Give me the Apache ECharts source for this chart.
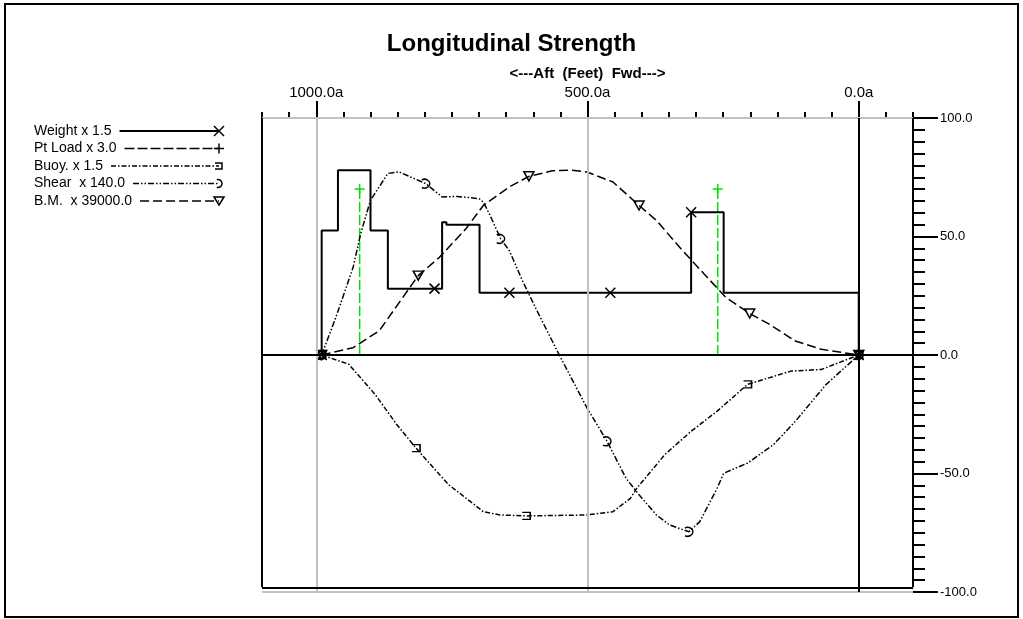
<!DOCTYPE html>
<html>
<head>
<meta charset="utf-8">
<script src="https://cdn.jsdelivr.net/npm/echarts@6/dist/echarts.min.js"></script>
<style>
html,body{margin:0;padding:0;background:#fff;}
#c{width:1023px;height:619px;}
</style>
</head>
<body>
<div id="c"></div>
<script>
// ---- data (x in feet, aft = larger values; y in scaled units) ----
var xTickLabels = [1000, 500, 0];
var yTickLabels = [100, 50, 0, -50, -100];
var seriesNames = ['Weight x 1.5', 'Pt Load x 3.0', 'Buoy. x 1.5', 'Shear  x 140.0', 'B.M.  x 39000.0'];

var weightPts = [[990,0],[990,52.5],[960,52.5],[960,78],[900,78],[900,52.5],[868,52.5],[868,28],[768,28],[768,56],[760,56],[760,55],[699,55],[699,26.3],[309,26.3],[309,60.2],[249,60.2],[249,26.3],[0,26.3],[0,0]];
var weightMarks = [[990,0],[782,28],[644,26.3],[458,26.3],[309,60.2],[0,0]];

var ptLoadPos = [920, 260];
var ptLoadVal = [70, 70];

var buoyPts = [[990,0],[940,-3.9],[892,-16.5],[852,-29.2],[816,-39.3],[773,-50.4],[756,-54.7],[692,-66.1],[661,-67.5],[613,-67.9],[501,-67.5],[453,-66.1],[421,-60.5],[409,-56.2],[357,-41.9],[309,-32.2],[261,-23.7],[205,-12.4],[125,-6.8],[69,-6.1],[0,0]];
var buoyMarkIdx = [0, 4, 9, 17, 20];

var shearPts = [[990,0],[964,15.8],[932,37],[918,51.3],[900,65.3],[868,76.6],[848,77.3],[798,72.3],[768,66.7],[740,66.9],[700,66],[692,64.5],[681,59.6],[660,49],[644,44],[620,31.4],[596,20],[565,5.9],[552,0],[501,-22.3],[464,-36.4],[429,-52],[405,-59],[373,-67.5],[349,-71.7],[313,-74.6],[293,-70.3],[261,-56.2],[249,-49.9],[205,-45.6],[157,-37.8],[117,-28],[60,-12.4],[0,0]];
var shearMarkIdx = [0, 7, 13, 20, 25, 33];

var bmPts = [[990,0],[932,3.1],[884,10.2],[812,33.5],[773,41.2],[724,53.3],[692,63.1],[644,70.9],[608,75.4],[565,77.7],[532,78],[501,77.2],[453,73],[405,63.1],[373,56.8],[325,44.1],[285,34.2],[245,24.3],[201,17.5],[165,13],[117,5.9],[69,2.4],[0,0]];
var bmMarkIdx = [0, 3, 8, 13, 18, 22];

// ---- styles ----
var FONT = '"Liberation Sans", Arial, sans-serif';
var SYM = {
  x: 'path://M0,0L10,10M10,0L0,10',
  plus: 'path://M5,0L5,10M0,5L10,5',
  buoy: 'path://M0,0L9,0L9,8L0,8',
  shear: 'path://M0,1C5,-1 10,2 10,5C10,8 5,11 0,9',
  bm: 'path://M0,0L10,0L5,9Z'
};
var DASH = {
  weight: 'solid',
  pt: [10, 3],
  buoy: [5, 2, 1.5, 2],
  shear: [6, 2, 1.5, 2, 1.5, 2],
  bm: [9, 4]
};

function pick(pts, idx) { return idx.map(function (i) { return pts[i]; }); }

var ptData = [];
ptLoadPos.forEach(function (p, i) {
  ptData.push([p, 0], [p, ptLoadVal[i]], '-');
});

function curve(name, data, dash, color, width, z) {
  return {
    name: name, type: 'line', data: data, symbol: 'none', z: z || 3,
    lineStyle: { color: color, width: width, type: dash },
    animation: false, silent: true
  };
}
function marks(name, data, sym, size, color) {
  return {
    name: name, type: 'scatter', data: data, symbol: sym, symbolSize: size, z: 4,
    itemStyle: { color: 'rgba(0,0,0,0)', borderColor: color, borderWidth: 1.5, opacity: 1 },
    animation: false, silent: true
  };
}

var gray = '#c0c0c0';
function seg(a, b, color) {
  return [{ coord: a, lineStyle: { color: color, width: 2, type: 'solid' } }, { coord: b }];
}
var frameSeries = {
  type: 'line', data: [], z: 1, silent: true, animation: false,
  markLine: {
    symbol: ['none', 'none'], silent: true, animation: false, label: { show: false },
    data: [
      seg([1000, 100], [1000, -100], gray),
      seg([500, 100], [500, -100], gray),
      seg([1100, 100], [-100, 100], gray),
      seg([1100, -100], [-100, -100], gray),
      seg([0, 100], [0, -100], '#000'),
      seg([1100, 0], [-100, 0], '#000'),
      seg([1100, 100], [1100, -98], '#000'),
      seg([1100, -98], [-100, -98], '#000'),
      seg([-100, 100], [-100, -98], '#000')
    ]
  }
};

// ---- legend built as graphic ----
var LFS = 14;
var legendY0 = 131, legendDY = 17.5, legendX = 34, legendEnd = 219;
var legendDash = [DASH.weight, DASH.pt, DASH.buoy, DASH.shear, DASH.bm];
var measure = document.createElement('canvas').getContext('2d');
measure.font = LFS + 'px ' + FONT;

function markerEls(kind, cx, cy) {
  var st = { fill: 'none', stroke: '#000', lineWidth: 1.5 };
  if (kind === 0) return [
    { type: 'polyline', shape: { points: [[cx - 5, cy - 5], [cx + 5, cy + 5]] }, style: st },
    { type: 'polyline', shape: { points: [[cx + 5, cy - 5], [cx - 5, cy + 5]] }, style: st }];
  if (kind === 1) return [
    { type: 'polyline', shape: { points: [[cx, cy - 5], [cx, cy + 5]] }, style: st },
    { type: 'polyline', shape: { points: [[cx - 5, cy], [cx + 5, cy]] }, style: st }];
  if (kind === 2) return [
    { type: 'polyline', shape: { points: [[cx - 4, cy - 3], [cx + 3, cy - 3], [cx + 3, cy + 3], [cx - 4, cy + 3]] }, style: st }];
  if (kind === 3) return [
    { type: 'arc', shape: { cx: cx - 1, cy: cy, r: 4, startAngle: -Math.PI / 2 - 0.3, endAngle: Math.PI / 2 + 0.3, clockwise: true }, style: st }];
  return [
    { type: 'polygon', shape: { points: [[cx - 5, cy - 4], [cx + 5, cy - 4], [cx, cy + 4]] }, style: st }];
}

var legendGraphics = [{
  type: 'rect', shape: { x: 5, y: 4, width: 1013, height: 613 },
  style: { fill: 'none', stroke: '#000', lineWidth: 2 }, silent: true
}];
seriesNames.forEach(function (n, i) {
  var y = legendY0 + i * legendDY;
  var w = measure.measureText(n).width;
  legendGraphics.push({
    type: 'text', x: legendX, y: y, 
    style: { text: n, font: LFS + 'px ' + FONT, fill: '#000', textVerticalAlign: 'middle', verticalAlign: 'middle' }
  });
  var d = legendDash[i];
  legendGraphics.push({
    type: 'line',
    shape: { x1: legendX + w + 8, y1: y, x2: legendEnd, y2: y },
    style: { stroke: '#000', lineWidth: i === 0 ? 2 : 1.5, lineDash: d === 'solid' ? null : d }
  });
  legendGraphics = legendGraphics.concat(markerEls(i, legendEnd, y));
});

var chart = echarts.init(document.getElementById('c'), null, { renderer: 'canvas' });
chart.setOption({
  backgroundColor: '#fff',
  animation: false,
  title: {
    text: 'Longitudinal Strength', left: 'center', top: 32, padding: 0,
    textStyle: { fontFamily: FONT, fontSize: 24, fontWeight: 'bold', color: '#000' }
  },
  grid: { left: 262, right: 110, top: 118, bottom: 27, containLabel: false, outerBoundsMode: 'none' },
  xAxis: [
    {
      type: 'value', position: 'top', inverse: true, min: -100, max: 1100, interval: 50,
      axisLine: { show: false, onZero: false },
      axisTick: { show: true, length: 6, lineStyle: { color: '#000', width: 2 } },
      axisLabel: { show: false },
      splitLine: { show: false },
      name: '<---Aft  (Feet)  Fwd--->', nameLocation: 'middle', nameGap: 37,
      nameTextStyle: { fontFamily: FONT, fontSize: 15, fontWeight: 'bold', color: '#000' }
    },
    {
      type: 'value', position: 'top', inverse: true, min: -100, max: 1100,
      axisLine: { show: false, onZero: false },
      axisTick: { show: true, length: 17, customValues: xTickLabels, lineStyle: { color: '#000', width: 2 } },
      axisLabel: {
        show: true, customValues: xTickLabels, margin: 18,
        formatter: function (v) { return v.toFixed(1) + 'a'; },
        fontFamily: FONT, fontSize: 15, color: '#000'
      },
      splitLine: { show: false }
    }
  ],
  yAxis: {
    type: 'value', position: 'right', min: -100, max: 100, interval: 50,
    axisLine: { show: false, onZero: false },
    axisTick: { show: true, length: 25, lineStyle: { color: '#000', width: 2 } },
    minorTick: { show: true, splitNumber: 10, length: 12, lineStyle: { color: '#000', width: 2 } },
    axisLabel: {
      show: true, margin: 27, customValues: yTickLabels,
      formatter: function (v) { return v.toFixed(1); },
      fontFamily: FONT, fontSize: 13, color: '#000'
    },
    splitLine: { show: false }
  },
  graphic: legendGraphics,
  series: [
    frameSeries,
    {
      name: seriesNames[1], type: 'line', data: ptData, symbol: 'none', connectNulls: false, z: 2,
      lineStyle: { color: '#00e000', width: 1.5, type: DASH.pt }, animation: false, silent: true
    },
    marks(seriesNames[1], ptLoadPos.map(function (p, i) { return [p, ptLoadVal[i]]; }), SYM.plus, 10, '#00e000'),
    curve(seriesNames[0], weightPts, 'solid', '#000', 2),
    marks(seriesNames[0], weightMarks, SYM.x, 10, '#000'),
    curve(seriesNames[2], buoyPts, DASH.buoy, '#000', 1.5),
    marks(seriesNames[2], pick(buoyPts, buoyMarkIdx), SYM.buoy, [8, 7], '#000'),
    curve(seriesNames[3], shearPts, DASH.shear, '#000', 1.5),
    marks(seriesNames[3], pick(shearPts, shearMarkIdx), SYM.shear, [8, 9], '#000'),
    curve(seriesNames[4], bmPts, DASH.bm, '#000', 1.5),
    marks(seriesNames[4], pick(bmPts, bmMarkIdx), SYM.bm, [10, 9], '#000')
  ]
});
</script>
</body>
</html>
